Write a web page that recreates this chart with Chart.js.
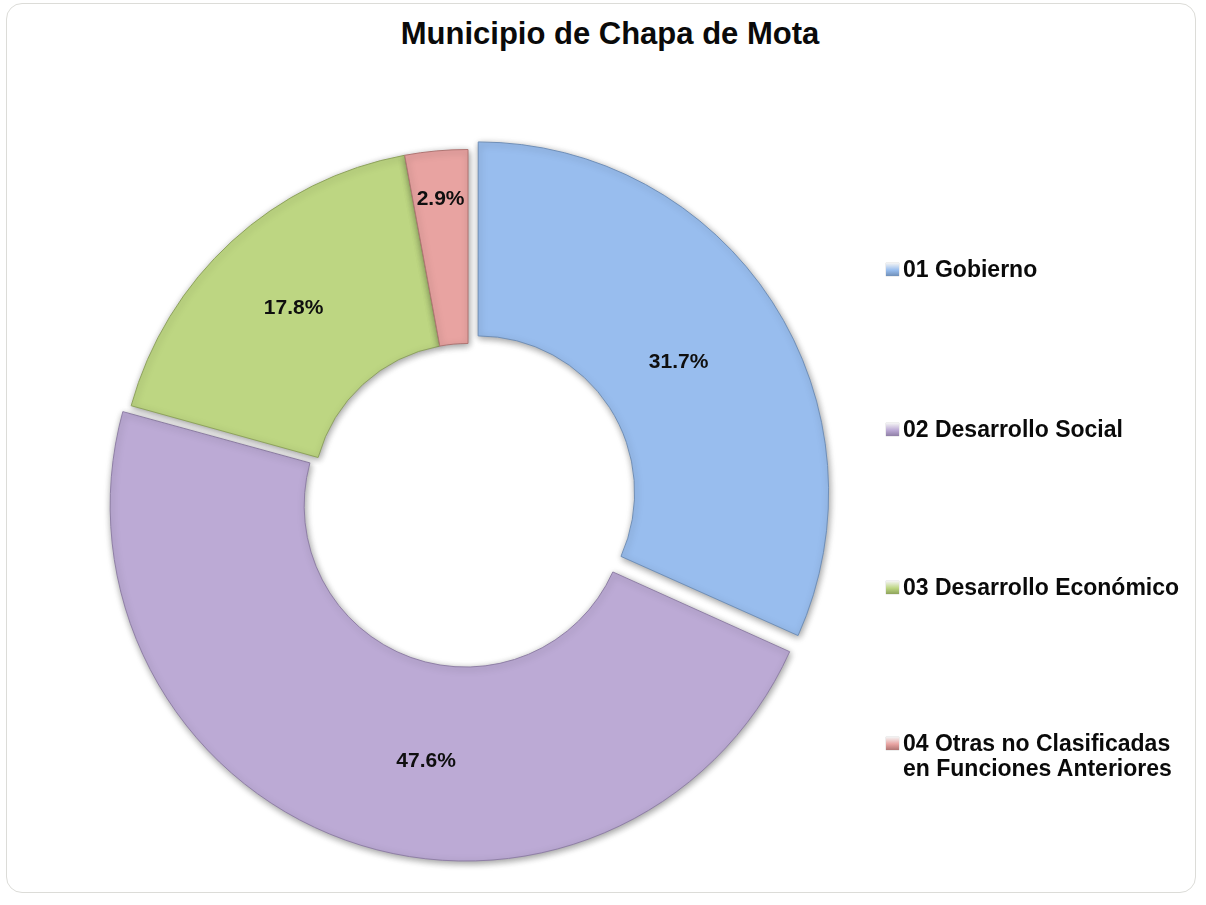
<!DOCTYPE html>
<html>
<head>
<meta charset="utf-8">
<title>Municipio de Chapa de Mota</title>
<script src="https://cdn.jsdelivr.net/npm/chart.js@4.4.1/dist/chart.umd.min.js"></script>
<style>
    body { margin: 0; background: #fff; font-family: "Liberation Sans", Arial, sans-serif; }
    .card {
        position: absolute; left: 6px; top: 3px; width: 1190px; height: 890px;
        border: 1.5px solid #dcdcd8; border-radius: 16px; box-sizing: border-box;
    }
    .title {
        position: absolute; left: 610px; top: 15px; transform: translateX(-50%);
        font-size: 31px; font-weight: bold; line-height: 38px; color: #0a0a0a; white-space: nowrap;
    }
    #donutChart { position: absolute; left: 0; top: 0; }
    .legend-item {
        position: absolute; left: 886px; font-size: 23px; font-weight: bold;
        line-height: 25px; color: #0a0a0a; white-space: nowrap;
    }
    .legend-item .swatch {
        position: absolute; left: 0; top: 6px; width: 13px; height: 13px;
        box-shadow: 0 0 1px rgba(0,0,0,0.4);
    }
    .legend-item .text { margin-left: 17px; }
</style>
</head>
<body>
<div class="card"></div>
<div class="title">Municipio de Chapa de Mota</div>
<canvas id="donutChart" width="1206" height="905"></canvas>
<div id="legend"></div>

<script>
// Data
const categories = [
    '01 Gobierno',
    '02 Desarrollo Social',
    '03 Desarrollo Económico',
    ['04 Otras no Clasificadas', 'en Funciones Anteriores']
];
const shares = [31.7, 47.6, 17.8, 2.9];

// Styling
const sliceColors = ['#98bdee', '#bcaad5', '#bdd682', '#e8a3a1'];
const edgeColors = ['#6f8fb8', '#8f7fa6', '#8ea35c', '#b07573'];
const explode = [48, 28, 0, 0];
const labelPlace = [
    { depth: 0.43, turn: 0 },
    { depth: 0.53, turn: -11 },
    { depth: 0.53, turn: 0 },
    { depth: 0.75, turn: 0 }
];
const legendTops = [257, 417, 575, 731];

// soft drop shadow under the ring
const softShadow = {
    id: 'softShadow',
    beforeDatasetsDraw(chart) {
        const c = chart.ctx;
        c.save();
        c.shadowColor = 'rgba(0, 0, 0, 0.4)';
        c.shadowBlur = 7;
        c.shadowOffsetX = 1;
        c.shadowOffsetY = 2;
    },
    afterDatasetsDraw(chart) {
        chart.ctx.restore();
    }
};

// percentage labels inside the slices
const sliceLabels = {
    id: 'sliceLabels',
    afterDatasetsDraw(chart) {
        const ctx = chart.ctx;
        const meta = chart.getDatasetMeta(0);
        ctx.save();
        ctx.font = 'bold 21px "Liberation Sans", Arial, sans-serif';
        ctx.fillStyle = '#0f0f0f';
        ctx.textAlign = 'center';
        ctx.textBaseline = 'middle';
        meta.data.forEach((arc, i) => {
            const p = arc.getProps(['x', 'y', 'startAngle', 'endAngle', 'innerRadius', 'outerRadius']);
            const mid = (p.startAngle + p.endAngle) / 2;
            const shift = explode[i] / 4;
            const cx = p.x + Math.cos(mid) * shift;
            const cy = p.y + Math.sin(mid) * shift;
            const a = mid + labelPlace[i].turn * Math.PI / 180;
            const r = p.innerRadius + (p.outerRadius - p.innerRadius) * labelPlace[i].depth;
            ctx.fillText(shares[i].toFixed(1) + '%', cx + Math.cos(a) * r, cy + Math.sin(a) * r);
        });
        ctx.restore();
    }
};

const ctx = document.getElementById('donutChart').getContext('2d');
new Chart(ctx, {
    type: 'doughnut',
    data: {
        labels: categories,
        datasets: [{
            data: shares,
            backgroundColor: sliceColors,
            borderColor: edgeColors,
            borderWidth: 1,
            offset: explode
        }]
    },
    options: {
        responsive: false,
        animation: false,
        cutout: '44.5%',
        layout: {
            padding: { left: 94, right: 364, top: 125, bottom: 32 }
        },
        plugins: {
            legend: { display: false },
            tooltip: { enabled: false }
        }
    },
    plugins: [softShadow, sliceLabels]
});

// legend on the right
const legend = document.getElementById('legend');
categories.forEach((label, i) => {
    const item = document.createElement('div');
    item.className = 'legend-item';
    item.style.top = legendTops[i] + 'px';
    const sw = document.createElement('span');
    sw.className = 'swatch';
    sw.style.background = 'linear-gradient(to bottom, #f4f4f4 0%, ' + sliceColors[i] + ' 55%, ' + edgeColors[i] + ' 100%)';
    const txt = document.createElement('div');
    txt.className = 'text';
    txt.innerHTML = Array.isArray(label) ? label.join('<br>') : label;
    item.appendChild(sw);
    item.appendChild(txt);
    legend.appendChild(item);
});
</script>
</body>
</html>
